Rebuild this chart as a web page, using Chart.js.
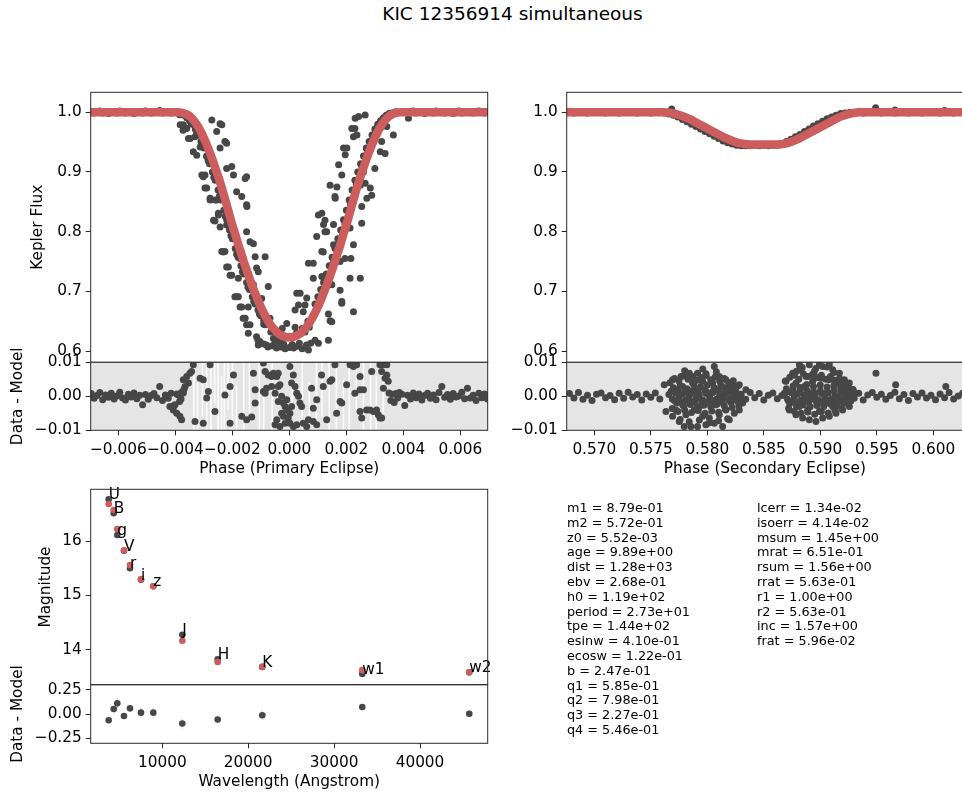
<!DOCTYPE html>
<html><head><meta charset="utf-8">
<script src="https://cdn.jsdelivr.net/npm/chart.js@4.4.0/dist/chart.umd.min.js"></script>
<style>
html,body{margin:0;padding:0;background:#fff;}
#wrap{position:relative;width:962px;height:795px;overflow:hidden;font-family:'DejaVu Sans',sans-serif;}
canvas{position:absolute;left:0;top:0;}
.title{position:absolute;left:0;width:1025px;top:3px;text-align:center;font-size:18.5px;color:#000;}
.params{position:absolute;font-size:12.8px;line-height:14.8px;white-space:pre;color:#000;}
</style></head><body><div id="wrap">
<div class="title" id="title"></div>
<canvas id="c1" width="962" height="795"></canvas>
<canvas id="c2" width="962" height="795"></canvas>
<canvas id="c3" width="1000" height="795"></canvas>
<canvas id="c4" width="1000" height="795"></canvas>
<canvas id="c5" width="962" height="795"></canvas>
<canvas id="c6" width="962" height="795"></canvas>
<div class="params" id="p1" style="left:567px;top:501px;"></div>
<div class="params" id="p2" style="left:757px;top:501px;"></div>
</div>
<script>
// ---------------- text ----------------
const figTitle = 'KIC 12356914 simultaneous';
const paramNames1 = ['m1','m2','z0','age','dist','ebv','h0','period','tpe','esinw','ecosw','b','q1','q2','q3','q4'];
const paramVals1 = ['8.79e-01','5.72e-01','5.52e-03','9.89e+00','1.28e+03','2.68e-01','1.19e+02','2.73e+01','1.44e+02','4.10e-01','1.22e-01','2.47e-01','5.85e-01','7.98e-01','2.27e-01','5.46e-01'];
const paramNames2 = ['lcerr','isoerr','msum','mrat','rsum','rrat','r1','r2','inc','frat'];
const paramVals2 = ['1.34e-02','4.14e-02','1.45e+00','6.51e-01','1.56e+00','5.63e-01','1.00e+00','5.63e-01','1.57e+00','5.96e-02'];

// ---------------- ticks ----------------
const priXTicks = [-0.006,-0.004,-0.002,0,0.002,0.004,0.006];
const priXLabels = ['\u22120.006','\u22120.004','\u22120.002','0.000','0.002','0.004','0.006'];
const secXTicks = [0.570,0.575,0.580,0.585,0.590,0.595,0.600];
const secXLabels = ['0.570','0.575','0.580','0.585','0.590','0.595','0.600'];
const fluxTicks = [0.6,0.7,0.8,0.9,1.0];
const fluxLabels = ['0.6','0.7','0.8','0.9','1.0'];
const lcResTicks = [-0.01,0,0.01];
const lcResLabels = ['\u22120.01','0.00','0.01'];
const sedXTicks = [10000,20000,30000,40000];
const sedXLabels = ['10000','20000','30000','40000'];
const magTicks = [14,15,16];
const magLabels = ['14','15','16'];
const sedResTicks = [-0.25,0,0.25];
const sedResLabels = ['\u22120.25','0.00','0.25'];

// ---------------- primary eclipse ----------------
const priModelPhase = [-0.0070,-0.0045,-0.0040,-0.0039,-0.0038,-0.0037,-0.0036,-0.0035,-0.0034,-0.0033,-0.0032,-0.0031,-0.0030,-0.0029,-0.0028,-0.0027,-0.0026,-0.0025,-0.0024,-0.0023,-0.0022,-0.0021,-0.0020,-0.0019,-0.0018,-0.0017,-0.0016,-0.0015,-0.0014,-0.0013,-0.0012,-0.0011,-0.0010,-0.0009,-0.0008,-0.0007,-0.0006,-0.0005,-0.0004,-0.0003,-0.0002,-0.0001,0,
0.0001,0.0002,0.0003,0.0004,0.0005,0.0006,0.0007,0.0008,0.0009,0.0010,0.0011,0.0012,0.0013,0.0014,0.0015,0.0016,0.0017,0.0018,0.0019,0.0020,0.0021,0.0022,0.0023,0.0024,0.0025,0.0026,0.0027,0.0028,0.0029,0.0030,0.0031,0.0032,0.0033,0.0034,0.0035,0.0036,0.0037,0.0038,0.0039,0.0040,0.0045,0.0070];
const priModelFlux = [1.000,1.000,1.000,1.000,0.9995,0.9985,0.9965,0.9935,0.989,0.983,0.976,0.967,0.957,0.946,0.934,0.921,0.907,0.893,0.878,0.862,0.845,0.828,0.811,0.796,0.780,0.765,0.750,0.736,0.722,0.709,0.697,0.685,0.674,0.664,0.655,0.647,0.640,0.635,0.630,0.627,0.625,0.6235,0.623,
0.6235,0.625,0.627,0.630,0.635,0.640,0.647,0.655,0.664,0.674,0.685,0.697,0.709,0.722,0.736,0.750,0.765,0.780,0.796,0.811,0.828,0.845,0.862,0.878,0.893,0.907,0.921,0.934,0.946,0.957,0.967,0.976,0.983,0.989,0.9935,0.9965,0.9985,0.9995,1.000,1.000,1.000,1.000];

const priBasePhase = [-0.00695,-0.00685,-0.00675,-0.00665,-0.00655,-0.00645,-0.00635,-0.00625,-0.00615,-0.00605,-0.00595,-0.00585,-0.00575,-0.00565,-0.00555,-0.00545,-0.00535,-0.00525,-0.00515,-0.00505,-0.00495,-0.00485,-0.00475,-0.00465,-0.00455,-0.00445,-0.00435,-0.00425,-0.00415,-0.00405,-0.00395,
0.00395,0.00405,0.00415,0.00425,0.00435,0.00445,0.00455,0.00465,0.00475,0.00485,0.00495,0.00505,0.00515,0.00525,0.00535,0.00545,0.00555,0.00565,0.00575,0.00585,0.00595,0.00605,0.00615,0.00625,0.00635,0.00645,0.00655,0.00665,0.00675,0.00685,0.00695];
const priBaseFlux = [1.001,0.999,1.000,1.002,0.999,1.001,0.998,1.000,1.001,0.999,1.002,1.000,0.999,1.001,1.000,0.998,1.001,1.000,0.999,1.002,1.000,0.999,1.001,1.000,1.003,0.999,1.000,1.001,0.999,1.000,1.001,
1.000,1.001,0.999,1.000,1.002,0.999,1.001,1.000,0.998,1.001,1.000,0.999,1.002,1.000,1.001,0.999,1.000,1.001,0.998,1.000,1.002,0.999,1.001,1.000,1.000,0.999,1.001,1.002,1.000,0.999,1.001];
const priBaseResid = [0.0008,-0.0006,0.0002,0.0011,-0.0010,0.0004,-0.0003,0.0009,-0.0008,0.0001,0.0012,-0.0005,-0.0011,0.0006,-0.0002,0.0010,-0.0007,0.0003,-0.0025,0.0005,-0.0009,0.0002,0.0008,-0.0004,0.0029,-0.0012,0.0004,-0.0006,0.0009,-0.0027,0.0007,
0.0006,-0.0027,0.0003,-0.0008,0.0010,-0.0004,0.0007,-0.0011,0.0002,0.0009,-0.0006,0.0004,-0.0010,0.0011,0.0029,-0.0003,0.0005,-0.0009,0.0008,-0.0002,0.0001,0.0012,-0.0007,0.0024,-0.0005,0.0003,-0.0012,0.0009,-0.0004,0.0007,-0.0008];

const priEclipse = [
[-0.00383,0.979],[-0.00360,0.973],[-0.00348,0.956],[-0.00337,0.934],[-0.00325,0.928],[-0.00313,0.942],[-0.00307,0.895],[-0.00296,0.895],[-0.00296,0.873],[-0.00278,0.856],[-0.00266,0.819],[-0.00261,0.853],[-0.00249,0.831],[-0.00243,0.808],[-0.00237,0.767],[-0.00226,0.767],[-0.00220,0.741],[-0.00208,0.727],[-0.00191,0.691],[-0.00179,0.691],[-0.00173,0.674],[-0.00162,0.655],[-0.00150,0.644],[-0.00144,0.630],[-0.00115,0.624],[-0.00103,0.616],[-0.00080,0.610],[-0.00243,0.981],[-0.00255,0.968],[-0.00243,0.940],[-0.00226,0.951],[-0.00220,0.906],[-0.00202,0.909],[-0.00196,0.895],[-0.00185,0.867],[-0.00167,0.859],[-0.00150,0.845],[-0.00150,0.800],[-0.00138,0.783],[-0.00126,0.780],[-0.00120,0.758],[-0.00115,0.739],[-0.00085,0.758],[-0.00074,0.708],[-0.00150,0.892],[-0.00185,0.786],[-0.00173,0.755],[-0.00126,0.711],[-0.00097,0.688],[-0.00068,0.655],[-0.00056,0.621],[-0.00033,0.616],
[-0.00372,0.979],[-0.00373,0.970],[-0.00354,0.956],[-0.00331,0.959],[-0.00272,0.987],[-0.00237,0.979],[-0.00220,0.948],[-0.00290,0.926],[-0.00302,0.892],[-0.00155,0.889],[-0.00290,0.873],[-0.00278,0.853],[-0.00255,0.853],[-0.00149,0.842],[-0.00249,0.828],[-0.00261,0.818],[-0.00220,0.811],[-0.00232,0.766],[-0.00214,0.741],[-0.00202,0.727],[-0.00179,0.722],[-0.00109,0.733],[-0.00185,0.691],[-0.00167,0.674],[-0.00144,0.674],[-0.00155,0.655],[-0.00138,0.644],[-0.00109,0.610],
[-0.00009,0.646],[0.00026,0.697],[0.00032,0.677],[0.00049,0.666],[0.00061,0.689],[0.00067,0.747],[0.00084,0.747],[0.00084,0.722],[0.00096,0.792],[0.00102,0.828],[0.00114,0.767],[0.00120,0.812],[0.00114,0.725],[0.00131,0.800],[0.00137,0.662],[0.00143,0.651],[0.00149,0.711],[0.00155,0.812],[0.00155,0.778],[0.00161,0.856],[0.00167,0.875],[0.00173,0.912],[0.00178,0.750],[0.00184,0.895],[0.00190,0.940],[0.00196,0.929],[0.00202,0.940],[0.00208,0.822],[0.00213,0.806],[0.00216,0.755],[0.00219,0.973],[0.00225,0.959],[0.00231,0.990],[0.00237,0.962],[0.00243,0.993],[0.00249,0.878],[0.00254,0.814],[0.00249,0.722],[0.00260,0.900],[0.00272,0.856],[0.00284,0.873],[0.00289,0.861],[0.00319,0.934],[0.00324,0.951],[0.00336,0.931],[0.00342,0.976],[0.00365,0.962],[0.00418,0.990],[0.00225,0.666],[0.00184,0.683],
[0.00266,0.9955],[0.00230,0.973],[0.00324,0.976],[0.00300,0.906],[0.00143,0.878],[0.00160,0.859],[0.00266,0.881],[0.00254,0.842],[0.00114,0.831],[0.00125,0.819],[0.00125,0.800],[0.00225,0.778],[0.00119,0.766],[0.00213,0.722],[0.00195,0.755],[0.00178,0.702],[0.00184,0.680],[0.00038,0.697],[0.00020,0.669],[0.00055,0.677],[0.00149,0.649],[0.00137,0.618],[0.00102,0.613],[0.00067,0.602],
[-0.0039,1.000],[-0.0038,0.998],[-0.0037,0.995],[-0.0036,0.991],[-0.0035,0.986],[-0.0034,0.980],[-0.0033,0.972],[-0.0032,0.962],[-0.0031,0.951],[-0.0030,0.940],[-0.0029,0.927],[-0.0028,0.914],[-0.0027,0.900],[-0.0026,0.886],[-0.0025,0.870],[-0.0024,0.853],[-0.0023,0.836],[-0.0022,0.820],[-0.0021,0.803],[-0.0020,0.788],[-0.0019,0.772],[-0.0018,0.757],[-0.0017,0.743],[-0.0016,0.729],[-0.0015,0.715],[-0.0014,0.703],[-0.0013,0.691],[-0.0012,0.679],[-0.0011,0.669],[-0.0010,0.659],[-0.0009,0.651],
[-0.00385,0.996],[-0.00355,0.990],[-0.00345,0.981],[-0.00325,0.965],[-0.00305,0.944],[-0.00285,0.919],[-0.00265,0.891],[-0.00245,0.860],[-0.00225,0.826],[-0.00205,0.793],[-0.00185,0.762],[-0.00165,0.733],[-0.00145,0.707],[-0.00125,0.683],[-0.00105,0.662],[-0.00085,0.644],[-0.00065,0.632],[-0.00045,0.625],
[0.0009,0.679],[0.0010,0.691],[0.0011,0.703],[0.0012,0.715],[0.0013,0.729],[0.0014,0.743],[0.0015,0.757],[0.0016,0.772],[0.0017,0.788],[0.0018,0.803],[0.0019,0.820],[0.0020,0.836],[0.0021,0.853],[0.0022,0.870],[0.0023,0.886],[0.0024,0.900],[0.0025,0.914],[0.0026,0.927],[0.0027,0.940],[0.0028,0.951],[0.0029,0.962],[0.0030,0.972],[0.0031,0.980],[0.0032,0.986],[0.0033,0.991],[0.0034,0.995],[0.0035,0.998],[0.0036,0.999],[0.0037,1.000],
[0.00095,0.672],[0.00115,0.694],[0.00135,0.722],[0.00155,0.750],[0.00175,0.781],[0.00195,0.813],[0.00215,0.846],[0.00235,0.879],[0.00255,0.908],[0.00275,0.934],[0.00295,0.957],[0.00315,0.975],[0.00335,0.988],[0.00355,0.996],[0.00375,1.001],[0.00065,0.650],[0.00045,0.638],[0.00025,0.630],
[-0.0009,0.612],[-0.00075,0.607],[-0.0006,0.609],[-0.00045,0.605],[-0.0003,0.607],[-0.00015,0.604],[0.0,0.606],[0.00015,0.605],[0.0003,0.608],[0.00045,0.604],[0.0006,0.610],[0.00075,0.613],[-0.0005,0.614],[0.0001,0.611],[0.00035,0.613],[-0.0002,0.612],[0.0009,0.618],[-0.0011,0.618],[0.0002,0.640],[-0.00025,0.638],[0.00055,0.632],[-0.0006,0.634],[0.0007,0.640],[-0.0009,0.645]
];

const priResidEclipse = [
[-0.00337,0.0093],[-0.00278,0.0093],[-0.00313,0.0053],[-0.00302,0.0049],[-0.00284,0.0014],[-0.00290,-0.0005],[-0.00331,-0.0074],[-0.00302,-0.0079],[-0.00261,-0.0045],[-0.00226,0.0004],[-0.00208,0.0029],[-0.00196,0.0063],[-0.00208,-0.0079],[-0.00167,-0.0059],[-0.00150,-0.0069],[-0.00132,-0.0061],[-0.00126,0.0068],[-0.00120,0.0019],[-0.00120,-0.0020],[-0.00091,0.0098],[-0.00085,0.0073],[-0.00074,0.0063],[-0.00062,0.0058],[-0.00056,0.0068],[-0.00044,0.0058],[-0.00039,0.0068],[-0.00091,0.0014],[-0.00085,0.0009],[-0.00080,0.0024],[-0.00062,0.0029],[-0.00050,0.0009],[-0.00039,0.0029],[-0.00027,0.0000],[-0.00033,0.0034],[-0.00039,-0.0015],[-0.00021,-0.0020],[-0.00009,-0.0010],[-0.00015,-0.0030],[-0.00027,-0.0050],[-0.00009,-0.0040],[-0.00021,-0.0059],[-0.00004,-0.0064],[0.00002,-0.0050],[0.00008,-0.0030],[-0.00044,-0.0069],[-0.00050,-0.0084],[-0.00033,-0.0089],[-0.00015,-0.0079],[0.00002,-0.0079],[0.00014,-0.0089],[0.00026,-0.0084],[0.00002,0.0088],[0.00014,0.0063],[0.00008,0.0039],[0.00020,0.0029],[0.00026,0.0009],[0.00032,0.0000],[0.00037,-0.0020],[0.00043,-0.0030],[0.00049,-0.0079],[0.00061,-0.0089],[0.00067,-0.0069],[0.00084,-0.0074],[0.00096,-0.0084],[0.00078,0.0024],[0.00084,-0.0035],[0.00096,-0.0010],[0.00113,0.0063],[0.00119,0.0029],[0.00131,-0.0069],[0.00143,0.0044],[0.00149,0.0049],[0.00160,0.0093],[0.00166,-0.0050],[0.00178,-0.0015],[0.00184,-0.0020],[0.00201,0.0034],[0.00213,0.0093],[0.00225,0.0088],[0.00230,0.0009],[0.00236,0.0093],[0.00248,0.0058],[0.00248,0.0019],[0.00248,-0.0045],[0.00254,-0.0064],[0.00260,0.0019],[0.00271,-0.0040],[0.00283,-0.0040],[0.00289,0.0073],[0.00295,-0.0045],[0.00306,-0.0040],[0.00312,-0.0054],[0.00318,0.0093],[0.00318,-0.0064],[0.00324,0.0073],[0.00330,0.0093],[0.00336,0.0053],[0.00342,0.0093],[0.00342,0.0063],[0.00347,0.0044],[0.00324,-0.0064],[0.00330,0.0024],
[-0.00372,0.0049],[-0.00360,0.0058],[-0.00349,0.0068],[-0.00343,0.0073],[-0.00354,0.0039],[-0.00366,0.0029],[-0.00407,-0.0040],[-0.00395,-0.0050],[-0.00384,-0.0059],[-0.00378,-0.0069],[-0.00419,-0.0030],[-0.00401,-0.0025],[-0.00378,0.0012],[-0.00370,0.0020],[-0.00385,-0.0015],
[0.00350,0.0010],[0.00356,-0.0012],[0.00362,0.0006],[0.00368,-0.0018],[0.00374,0.0008],[0.00380,-0.0005],[0.00386,0.0011],[-0.00390,0.0004],[-0.00380,-0.0008],[-0.00372,0.0010]
];

// white gaps where the residual error bars leave the panel: [phase, low, high]
const priGaps = [[-0.00335,-0.010,0.010],[-0.00322,-0.010,0.004],[-0.00305,-0.006,0.010],[-0.00290,-0.010,0.010],[-0.00275,-0.010,0.010],[-0.00262,-0.002,0.010],[-0.00250,-0.010,0.010],[-0.00238,-0.010,0.006],[-0.00228,-0.010,0.010],[-0.00215,-0.004,0.010],[-0.00200,-0.010,0.010],[-0.00185,-0.010,0.003],[-0.00160,-0.010,0.010],[-0.00140,-0.005,0.010],[-0.00105,-0.010,0.010],[-0.00090,-0.010,0.002],[-0.00060,-0.010,0.010],[0.00010,-0.003,0.010],[0.00045,-0.010,0.010],[0.00070,-0.010,0.004],[0.00095,-0.010,0.010],[0.00115,-0.006,0.010],[0.00140,-0.010,0.010],[0.00165,-0.010,0.010],[0.00190,-0.010,0.005],[0.00210,-0.010,0.010],[0.00235,-0.004,0.010],[0.00260,-0.010,0.010],[0.00285,-0.010,0.010],[0.00305,-0.010,0.006],[0.00330,-0.005,0.010]];

// ---------------- secondary eclipse ----------------
const secModelPhase = [0.5670,0.5760,0.5765,0.5770,0.5775,0.5780,0.5785,0.5790,0.5795,0.5800,0.5805,0.5810,0.5815,0.5820,0.5825,0.5830,0.5835,0.5840,0.5850,0.5860,0.5865,0.5870,0.5875,0.5880,0.5885,0.5890,0.5895,0.5900,0.5905,0.5910,0.5915,0.5920,0.5925,0.5930,0.5935,0.6030];
const secModelFlux = [1.000,1.000,0.9995,0.998,0.9955,0.992,0.988,0.983,0.978,0.973,0.968,0.963,0.958,0.954,0.950,0.948,0.9465,0.946,0.946,0.946,0.9465,0.948,0.951,0.955,0.960,0.965,0.970,0.975,0.980,0.985,0.990,0.994,0.997,0.999,1.000,1.000];
const secBasePhase = [0.5678,0.5682,0.5686,0.5690,0.5694,0.5698,0.5702,0.5706,0.5710,0.5714,0.5718,0.5722,0.5726,0.5730,0.5734,0.5738,0.5742,0.5746,0.5750,0.5754,0.5758,
0.5930,0.5934,0.5938,0.5942,0.5946,0.5950,0.5954,0.5958,0.5962,0.5966,0.5970,0.5974,0.5978,0.5982,0.5986,0.5990,0.5994,0.5998,0.6002,0.6006,0.6010,0.6014,0.6018,0.6022,0.6026];
const secBaseFlux = [1.001,0.999,1.000,1.001,0.999,1.000,1.001,1.000,0.999,1.001,1.000,0.999,1.001,1.000,1.000,0.999,1.001,1.000,0.999,1.001,1.000,
1.000,1.001,0.999,1.000,1.001,1.000,0.999,1.001,1.000,0.999,1.001,1.000,0.999,1.000,1.001,0.999,1.000,1.001,1.000,0.999,1.001,1.000,0.999,1.001,1.000];
const secBaseResid = [0.0008,-0.0005,0.0011,-0.0009,0.0003,-0.0012,0.0006,0.0010,-0.0004,0.0002,-0.0010,0.0009,-0.0006,0.0012,-0.0002,0.0005,-0.0011,0.0007,-0.0003,0.0010,-0.0008,
-0.0006,0.0009,-0.0011,0.0004,0.0011,-0.0003,0.0006,-0.0009,0.0002,0.0012,-0.0007,0.0005,-0.0012,0.0008,-0.0002,0.0010,-0.0005,0.0003,-0.0010,0.0007,-0.0004,0.0011,-0.0008,0.0001,0.0009];
const secDip = [[0.5762,0.999],[0.5766,0.997],[0.5770,0.995],[0.5774,0.992],[0.5778,0.988],[0.5782,0.984],[0.5786,0.980],[0.5790,0.976],[0.5794,0.972],[0.5798,0.968],[0.5802,0.964],[0.5806,0.960],[0.5810,0.956],[0.5814,0.952],[0.5818,0.949],[0.5822,0.947],[0.5826,0.945],[0.5830,0.944],[0.5834,0.944],[0.5838,0.944],[0.5842,0.945],[0.5846,0.944],[0.5850,0.945],[0.5854,0.944],[0.5858,0.945],[0.5862,0.945],[0.5866,0.947],[0.5870,0.951],[0.5874,0.955],[0.5878,0.959],[0.5882,0.963],[0.5886,0.968],[0.5890,0.972],[0.5894,0.977],[0.5898,0.981],[0.5902,0.985],[0.5906,0.989],[0.5910,0.992],[0.5914,0.995],[0.5918,0.998],[0.5922,0.999],[0.5926,1.000],
[0.57685,1.0055],[0.5949,1.0077],[0.5966,1.004],[0.6010,1.003]];
const secResidMid = [[0.5830,0.0006],[0.5834,-0.0009],[0.5838,0.0011],[0.5842,-0.0004],[0.5846,0.0008],[0.5850,-0.0011],[0.5854,0.0003],[0.5858,0.0010],[0.5862,-0.0007],[0.5866,0.0002]];
const secResidBlobs = [
[0.5766,0.0005],[0.5769,-0.0008],[0.5772,0.0010],[0.5775,-0.0003],[0.5778,0.0007],[0.5781,-0.0010],[0.5784,0.0002],[0.5787,0.0009],[0.5790,-0.0006],[0.5793,0.0004],[0.5796,-0.0011],[0.5799,0.0008],[0.5802,-0.0002],[0.5805,0.0011],[0.5808,-0.0009],[0.5811,0.0003],[0.5814,-0.0005],[0.5817,0.0010],[0.5820,-0.0007],[0.5823,0.0001],[0.5826,0.0009],[0.5829,-0.0004],
[0.5770,0.0025],[0.5776,0.0030],[0.5782,0.0022],[0.5788,0.0035],[0.5794,0.0028],[0.5800,0.0033],[0.5806,0.0026],[0.5812,0.0031],[0.5818,0.0024],[0.5824,0.0020],[0.5773,-0.0020],[0.5779,-0.0028],[0.5785,-0.0024],[0.5791,-0.0032],[0.5797,-0.0026],[0.5803,-0.0030],[0.5809,-0.0022],[0.5815,-0.0027],[0.5821,-0.0018],[0.5827,-0.0015],
[0.57619,0.0034],[0.57693,0.0049],[0.57767,0.0058],[0.57841,0.0068],[0.57914,0.0068],[0.57988,0.0066],[0.58062,0.0088],[0.58106,0.0058],[0.58165,0.0049],[0.58224,0.0034],[0.58283,0.0034],[0.57782,0.0029],[0.57870,0.0039],[0.57959,0.0044],[0.58047,0.0039],[0.58136,0.0029],[0.58195,0.0024],[0.57723,0.0019],[0.57811,0.0014],[0.57900,0.0019],[0.57988,0.0014],[0.58077,0.0019],[0.58165,0.0009],[0.58254,0.0014],[0.58342,0.0019],
[0.57634,-0.0045],[0.57693,-0.0059],[0.57752,-0.0074],[0.57796,-0.0089],[0.57855,-0.0089],[0.57914,-0.0089],[0.57988,-0.0084],[0.58062,-0.0079],[0.58136,-0.0089],[0.58195,-0.0069],[0.58239,-0.0050],[0.57723,-0.0040],[0.57811,-0.0054],[0.57885,-0.0040],[0.57959,-0.0059],[0.58018,-0.0064],[0.58106,-0.0054],[0.58165,-0.0040],[0.57782,-0.0025],[0.57929,-0.0030],[0.58047,-0.0020],[0.58283,-0.0040],[0.58313,-0.0020],[0.57870,-0.0015],[0.58077,-0.0025],
[0.5868,0.0004],[0.5871,-0.0009],[0.5874,0.0011],[0.5877,-0.0002],[0.5880,0.0007],[0.5883,-0.0011],[0.5886,0.0003],[0.5889,0.0009],[0.5892,-0.0006],[0.5895,0.0005],[0.5898,-0.0010],[0.5901,0.0008],[0.5904,-0.0003],[0.5907,0.0010],[0.5910,-0.0008],[0.5913,0.0002],[0.5916,-0.0005],[0.5919,0.0009],[0.5922,-0.0007],[0.5925,0.0003],[0.5928,0.0008],
[0.5870,0.0022],[0.5876,0.0030],[0.5882,0.0026],[0.5888,0.0035],[0.5894,0.0029],[0.5900,0.0033],[0.5906,0.0027],[0.5912,0.0031],[0.5918,0.0024],[0.5924,0.0018],[0.5873,-0.0021],[0.5879,-0.0029],[0.5885,-0.0025],[0.5891,-0.0031],[0.5897,-0.0027],[0.5903,-0.0030],[0.5909,-0.0023],[0.5915,-0.0026],[0.5921,-0.0019],[0.5927,-0.0014],
[0.58815,0.0093],[0.58903,0.0093],[0.58992,0.0093],[0.59080,0.0093],[0.58756,0.0068],[0.58815,0.0078],[0.58874,0.0058],[0.58947,0.0073],[0.59021,0.0088],[0.59110,0.0078],[0.59169,0.0068],[0.59213,0.0049],[0.59257,0.0039],[0.58697,0.0044],[0.58785,0.0039],[0.58859,0.0029],[0.58933,0.0044],[0.59006,0.0053],[0.59080,0.0049],[0.59154,0.0039],[0.59228,0.0024],[0.59287,0.0019],[0.59316,0.0009],
[0.58726,-0.0040],[0.58785,-0.0054],[0.58844,-0.0064],[0.58903,-0.0069],[0.58962,-0.0074],[0.59021,-0.0064],[0.59080,-0.0059],[0.59139,-0.0050],[0.59198,-0.0040],[0.59257,-0.0030],[0.58815,-0.0030],[0.58888,-0.0040],[0.58992,-0.0045],[0.59110,-0.0030],[0.58756,-0.0015],[0.58874,-0.0010],[0.59051,-0.0020],[0.59198,-0.0015],[0.58682,0.0009],
[0.59493,0.0068],[0.59667,0.0034],[0.60111,0.0029]
];
const secResidDense = [
[0.5767,0.0040],[0.5771,0.0052],[0.5775,0.0045],[0.5779,0.0060],[0.5783,0.0050],[0.5787,0.0058],[0.5791,0.0047],[0.5795,0.0055],[0.5799,0.0061],[0.5803,0.0049],[0.5807,0.0057],[0.5811,0.0044],[0.5815,0.0052],[0.5819,0.0040],[0.5823,0.0046],[0.5827,0.0030],
[0.5769,-0.0036],[0.5774,-0.0045],[0.5780,-0.0040],[0.5786,-0.0048],[0.5792,-0.0042],[0.5798,-0.0050],[0.5804,-0.0043],[0.5810,-0.0047],[0.5816,-0.0038],[0.5822,-0.0033],[0.5828,-0.0028],
[0.5768,0.0015],[0.5774,0.0018],[0.5780,0.0012],[0.5786,0.0016],[0.5792,0.0013],[0.5798,0.0017],[0.5804,0.0012],[0.5810,0.0016],[0.5816,0.0013],[0.5822,0.0011],
[0.5771,-0.0013],[0.5777,-0.0016],[0.5783,-0.0012],[0.5789,-0.0017],[0.5795,-0.0014],[0.5801,-0.0016],[0.5807,-0.0012],[0.5813,-0.0015],[0.5819,-0.0011],[0.5825,-0.0010],
[0.5776,-0.0068],[0.5784,-0.0075],[0.5793,-0.0070],[0.5802,-0.0078],[0.5810,-0.0072],[0.5818,-0.0066],[0.5780,0.0075],[0.5796,0.0080],[0.5808,0.0072],
[0.5869,0.0045],[0.5873,0.0056],[0.5877,0.0062],[0.5881,0.0050],[0.5885,0.0066],[0.5889,0.0058],[0.5893,0.0064],[0.5897,0.0055],[0.5901,0.0062],[0.5905,0.0050],[0.5909,0.0058],[0.5913,0.0047],[0.5917,0.0052],[0.5921,0.0040],[0.5925,0.0034],[0.5929,0.0020],
[0.5872,-0.0035],[0.5877,-0.0044],[0.5883,-0.0050],[0.5889,-0.0046],[0.5895,-0.0053],[0.5901,-0.0045],[0.5907,-0.0049],[0.5913,-0.0041],[0.5919,-0.0036],[0.5925,-0.0026],
[0.5870,0.0013],[0.5876,0.0017],[0.5882,0.0012],[0.5888,0.0018],[0.5894,0.0014],[0.5900,0.0016],[0.5906,0.0012],[0.5912,0.0017],[0.5918,0.0013],[0.5924,0.0010],
[0.5872,-0.0014],[0.5878,-0.0017],[0.5884,-0.0012],[0.5890,-0.0016],[0.5896,-0.0013],[0.5902,-0.0017],[0.5908,-0.0012],[0.5914,-0.0015],[0.5920,-0.0011],
[0.5884,0.0085],[0.5896,0.0082],[0.5906,0.0086],[0.5879,0.0074],[0.5912,0.0070]
];

// ---------------- SED ----------------
const sedBands = ['U','B','g','V','r','i','z','J','H','K','w1','w2'];
const sedWave = [3761,4343,4763,5542,6241,7521,8953,12330,16449,21640,33280,45735];
const sedObs = [16.765,16.51,16.11,15.82,15.50,15.29,15.17,14.28,13.83,13.69,13.56,13.59];
const sedModel = [16.68,16.57,16.22,15.83,15.56,15.30,15.17,14.17,13.78,13.69,13.63,13.59];
const sedResid = [-0.064,0.051,0.109,-0.020,0.058,0.014,0.014,-0.098,-0.057,-0.013,0.071,0.003];
const sedErr = [0.03,0.04,0.06,0.03,0.04,0.05,0.05,0.05,0.04,0.05,0.03,0.03];

// ---------------- build ----------------
const FONT = "'DejaVu Sans', sans-serif";
const FS = 15.3;
Chart.defaults.font.family = FONT;
Chart.defaults.font.size = FS;
Chart.defaults.color = '#000';
const DARK = '#474747', RED = '#cd5c5c', FRAME = '#2b2b2b';

document.getElementById('title').textContent = figTitle;
document.getElementById('p1').textContent = paramNames1.map((n,i)=>n+' = '+paramVals1[i]).join('\n');
document.getElementById('p2').textContent = paramNames2.map((n,i)=>n+' = '+paramVals2[i]).join('\n');

const zip = (xs, ys) => xs.map((x,i)=>({x, y: ys[i]}));
const pairs = arr => arr.map(p=>({x:p[0], y:p[1]}));

const framePlugin = {id:'frame', afterDraw(chart){ const a=chart.chartArea, c=chart.ctx; c.save(); c.strokeStyle=FRAME; c.lineWidth=1; c.strokeRect(a.left,a.top,a.right-a.left,a.bottom-a.top); c.restore(); }};
const greyPlugin = {id:'grey', beforeDraw(chart){ const a=chart.chartArea, c=chart.ctx; c.save(); c.fillStyle='#e5e5e5'; c.fillRect(a.left,a.top,a.right-a.left,a.bottom-a.top); c.restore(); }};
const gapPlugin = {id:'gaps', beforeDatasetsDraw(chart){ const {ctx, scales:{x,y}} = chart; ctx.save(); ctx.strokeStyle='rgba(255,255,255,0.85)'; ctx.lineWidth=1.6; priGaps.forEach(g=>{ const px=x.getPixelForValue(g[0]); ctx.beginPath(); ctx.moveTo(px, y.getPixelForValue(g[1])); ctx.lineTo(px, y.getPixelForValue(g[2])); ctx.stroke(); }); ctx.restore(); }};
const errPlugin = {id:'err', beforeDatasetsDraw(chart){ const {ctx, scales:{x,y}} = chart; ctx.save(); ctx.strokeStyle='#dcdcdc'; ctx.lineWidth=1.5; sedWave.forEach((w,i)=>{ const px=x.getPixelForValue(w); ctx.beginPath(); ctx.moveTo(px, y.getPixelForValue(sedResid[i]-sedErr[i])); ctx.lineTo(px, y.getPixelForValue(sedResid[i]+sedErr[i])); ctx.stroke(); }); ctx.restore(); }};
const labelPlugin = {id:'lab', afterDatasetsDraw(chart){ const {ctx, scales:{x,y}} = chart; ctx.save(); ctx.font = FS+"px "+FONT; ctx.fillStyle='#000'; ctx.textAlign='left'; ctx.textBaseline='alphabetic'; sedBands.forEach((b,i)=>{ ctx.fillText(b, x.getPixelForValue(sedWave[i]), y.getPixelForValue(sedObs[i])); }); ctx.restore(); }};

function yAxis(min, max, ticks, labels, title, tpad){
  return {type:'linear', position:'left', min, max,
    afterBuildTicks: ax => { ax.ticks = ticks.map(v=>({value:v})); },
    afterFit: ax => { ax.width = 85; },
    ticks:{autoSkip:false, padding:4, color:'#000', font:{size:FS}, callback:(v,i)=>labels[i]},
    grid:{display:true, drawOnChartArea:false, drawTicks:true, tickLength:5, color:FRAME, lineWidth:1},
    border:{display:false},
    title: title ? {display:true, text:title, color:'#000', font:{size:FS}, padding:{top:tpad, bottom:0}} : {display:false}
  };
}
function xAxis(min, max, ticks, labels, title, show){
  return {type:'linear', position:'bottom', min, max, display:show,
    afterBuildTicks: ax => { ax.ticks = ticks.map(v=>({value:v})); },
    afterFit: ax => { ax.height = show ? 50 : 0; },
    ticks:{autoSkip:false, maxRotation:0, minRotation:0, padding:6, color:'#000', font:{size:FS}, callback:(v,i)=>labels[i]},
    grid:{display:true, drawOnChartArea:false, drawTicks:true, tickLength:5, color:FRAME, lineWidth:1},
    border:{display:false},
    title:{display:!!title, text:title||'', color:'#000', font:{size:FS}, padding:{top:0, bottom:1.8}}
  };
}
function dots(data, color, r, order){ return {data, showLine:false, pointRadius:r, pointHoverRadius:r, pointBackgroundColor:color, pointBorderWidth:0, borderWidth:0, order, clip:0}; }
function curve(data, order){ return {data, showLine:true, borderColor:RED, borderWidth:8.5, pointRadius:0, pointHoverRadius:0, cubicInterpolationMode:'monotone', borderJoinStyle:'round', fill:false, order, clip:0}; }
function make(id, pad, xs, ys, datasets, plugins){
  return new Chart(document.getElementById(id), {type:'scatter', data:{datasets},
    options:{responsive:false, animation:false, events:[], layout:{padding:pad},
      plugins:{legend:{display:false}, tooltip:{enabled:false}},
      scales:{x:xs, y:ys}},
    plugins});
}

const PX = [-0.00697, 0.00696];
const SX = [0.56756, 0.60263];
const FY = [0.5812, 1.0335];

make('c1', {left:5.7, right:474.3, top:92.3, bottom:432.7},
  xAxis(PX[0], PX[1], priXTicks, priXLabels, '', false),
  yAxis(FY[0], FY[1], fluxTicks, fluxLabels, 'Kepler Flux', 23.3),
  [curve(zip(priModelPhase, priModelFlux), 0), dots(zip(priBasePhase, priBaseFlux).concat(pairs(priEclipse)), DARK, 3.5, 1)],
  [framePlugin]);

make('c2', {left:5.7, right:474.3, top:362.3, bottom:314.7},
  xAxis(PX[0], PX[1], priXTicks, priXLabels, 'Phase (Primary Eclipse)', true),
  yAxis(-0.01, 0.01, lcResTicks, lcResLabels, 'Data - Model', 3.5),
  [dots(zip(priBasePhase, priBaseResid).concat(pairs(priResidEclipse)), DARK, 3.5, 0)],
  [greyPlugin, gapPlugin, framePlugin]);

make('c3', {left:481.7, right:37, top:92.3, bottom:432.7},
  xAxis(SX[0], SX[1], secXTicks, secXLabels, '', false),
  yAxis(FY[0], FY[1], fluxTicks, fluxLabels, '', 0),
  [curve(zip(secModelPhase, secModelFlux), 0), dots(zip(secBasePhase, secBaseFlux).concat(pairs(secDip)), DARK, 3.5, 1)],
  [framePlugin]);

make('c4', {left:481.7, right:37, top:362.3, bottom:314.7},
  xAxis(SX[0], SX[1], secXTicks, secXLabels, 'Phase (Secondary Eclipse)', true),
  yAxis(-0.01, 0.01, lcResTicks, lcResLabels, '', 0),
  [dots(zip(secBasePhase, secBaseResid).concat(pairs(secResidMid), pairs(secResidBlobs), pairs(secResidDense)), DARK, 3.5, 0)],
  [greyPlugin, framePlugin]);

make('c5', {left:5.7, right:474.3, top:489.3, bottom:110.3},
  xAxis(1666, 47880, sedXTicks, sedXLabels, '', false),
  yAxis(13.363, 16.949, magTicks, magLabels, 'Magnitude', 31),
  [dots(zip(sedWave, sedModel), RED, 3.3, 0), dots(zip(sedWave, sedObs), DARK, 3.3, 1)],
  [labelPlugin, framePlugin]);

make('c6', {left:5.7, right:474.3, top:684.7, bottom:1.7},
  xAxis(1666, 47880, sedXTicks, sedXLabels, 'Wavelength (Angstrom)', true),
  yAxis(-0.30, 0.30, sedResTicks, sedResLabels, 'Data - Model', 3.5),
  [dots(zip(sedWave, sedResid), DARK, 3.3, 0)],
  [errPlugin, framePlugin]);
</script>
</body></html>
